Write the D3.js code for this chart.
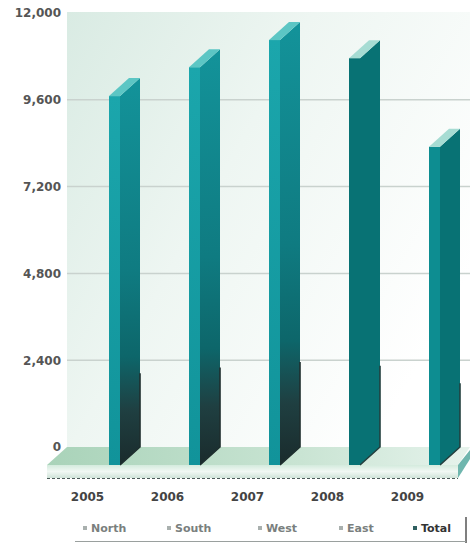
<!DOCTYPE html>
<html><head><meta charset="utf-8">
<script src="https://cdn.jsdelivr.net/npm/d3@7"></script>
<style>
html,body{margin:0;padding:0;background:#fff;}
svg{display:block;}
</style></head>
<body>
<script>
// ---- data ----
const years = ["2005", "2006", "2007", "2008", "2009"];
const totals = [10200, 11000, 11750, 11250, 8800];
const yTicks = [0, 2400, 4800, 7200, 9600, 12000];
const gridTicks = [2400, 4800, 7200, 9600];
const legendLabels = ["North", "South", "West", "East", "Total"];

const W = 470, H = 543;
const svg = d3.select("body").append("svg").attr("width", W).attr("height", H);
const defs = svg.append("defs");

// depth vector (towards the back)
const DX = 20, DY = -18;
const FRONT_W = 11;

const y = d3.scaleLinear().domain([0, 12000]).range([447, 13]);
const x = d3.scalePoint().domain(years).range([87, 407]);

// gradients
const wallG = defs.append("linearGradient").attr("id", "wall").attr("x1", 0).attr("y1", 0).attr("x2", 1).attr("y2", 0.6);
wallG.append("stop").attr("offset", 0).attr("stop-color", "#d9ebe3");
wallG.append("stop").attr("offset", 0.45).attr("stop-color", "#eef6f2");
wallG.append("stop").attr("offset", 1).attr("stop-color", "#ffffff");

const floorTop = defs.append("linearGradient").attr("id", "floorTop").attr("x1", 0).attr("y1", 0).attr("x2", 1).attr("y2", 0);
floorTop.append("stop").attr("offset", 0).attr("stop-color", "#a9d3b9");
floorTop.append("stop").attr("offset", 0.6).attr("stop-color", "#c9e4d3");
floorTop.append("stop").attr("offset", 1).attr("stop-color", "#e6f3ec");

const floorFront = defs.append("linearGradient").attr("id", "floorFront").attr("x1", 0).attr("y1", 0).attr("x2", 0).attr("y2", 1);
floorFront.append("stop").attr("offset", 0).attr("stop-color", "#d4ebdd");
floorFront.append("stop").attr("offset", 0.5).attr("stop-color", "#f1f8f4");
floorFront.append("stop").attr("offset", 1).attr("stop-color", "#cfe3d8");

const frontG = defs.append("linearGradient").attr("id", "front").attr("x1", 0).attr("y1", 0).attr("x2", 0).attr("y2", 1);
frontG.append("stop").attr("offset", 0).attr("stop-color", "#1ba6ac");
frontG.append("stop").attr("offset", 1).attr("stop-color", "#11939a");

const sideG = defs.append("linearGradient").attr("id", "side").attr("x1", 0).attr("y1", 0).attr("x2", 0).attr("y2", 1);
sideG.append("stop").attr("offset", 0).attr("stop-color", "#13939a");
sideG.append("stop").attr("offset", 0.5).attr("stop-color", "#0f7b81");
sideG.append("stop").attr("offset", 0.72).attr("stop-color", "#0d666a");
sideG.append("stop").attr("offset", 0.86).attr("stop-color", "#1f3f41");
sideG.append("stop").attr("offset", 1).attr("stop-color", "#1a2b2c");

// back wall
svg.append("rect").attr("x", 67).attr("y", 12).attr("width", W - 67).attr("height", y(0) - 12).attr("fill", "url(#wall)");

// gridlines
svg.append("g").selectAll("line").data(gridTicks).join("line")
  .attr("x1", 67).attr("x2", W).attr("y1", d => y(d)).attr("y2", d => y(d))
  .attr("stroke", "#c9d2ce").attr("stroke-width", 1.5);

// floor
const fy0 = y(0), fy1 = y(0) - DY; // back and front edges
svg.append("polygon")
  .attr("points", [[67, fy0], [W, fy0], [W - 12, fy1], [67 - DX, fy1]].map(p => p.join(",")).join(" "))
  .attr("fill", "url(#floorTop)");
svg.append("rect").attr("x", 67 - DX).attr("y", fy1).attr("width", W - 12 - (67 - DX)).attr("height", 13)
  .attr("fill", "url(#floorFront)");
svg.append("line").attr("x1", 67 - DX).attr("x2", W - 12).attr("y1", fy1 + 13.5).attr("y2", fy1 + 13.5)
  .attr("stroke", "#4a5a58").attr("stroke-width", 1).attr("stroke-dasharray", "3,2");
svg.append("polygon")
  .attr("points", [[W - 12, fy1], [W, fy0 + 3], [W, fy0 + 12], [W - 12, fy1 + 13]].map(p => p.join(",")).join(" "))
  .attr("fill", "#6fb6ae");

// y axis labels
const yAxis = d3.axisLeft(y).tickValues(yTicks).tickFormat(d3.format(",")).tickSize(0).tickPadding(0);
const yg = svg.append("g").attr("transform", "translate(61,0)").call(yAxis);
yg.select(".domain").remove();
yg.selectAll("text").attr("font-family", "DejaVu Sans, sans-serif").attr("font-weight", "bold")
  .attr("font-size", 12).attr("fill", "#555");

// bars
const bars = svg.append("g").selectAll("g").data(years.map((yr, i) => ({ yr, v: totals[i], i }))).join("g");
bars.each(function (d) {
  const g = d3.select(this);
  const L = x(d.yr) + 22;
  const R = L + FRONT_W;
  const bot = fy1;
  const top = y(d.v) - DY;
  const old = d.i < 3;
  // side face
  g.append("polygon")
    .attr("points", [[R, top], [R + DX, top + DY], [R + DX, bot + DY], [R, bot]].map(p => p.join(",")).join(" "))
    .attr("fill", old ? "url(#side)" : "#087274");
  // dark shadow edge at bottom right
  g.append("polyline")
    .attr("points", [[R + DX, top + DY + (bot - top) * 0.8], [R + DX, bot + DY], [R, bot]].map(p => p.join(",")).join(" "))
    .attr("fill", "none").attr("stroke", old ? "#1e2e2e" : "#24403f").attr("stroke-width", 1.6);
  // front face
  g.append("rect").attr("x", L).attr("y", top).attr("width", FRONT_W).attr("height", bot - top)
    .attr("fill", old ? "url(#front)" : (d.i === 4 ? "#0d8d91" : "#087274"));
  // top cap
  g.append("polygon")
    .attr("points", [[L, top], [R, top], [R + DX, top + DY], [L + DX, top + DY]].map(p => p.join(",")).join(" "))
    .attr("fill", old ? "#5cc6c4" : "#a6dcd3");
});

// x axis labels
const xAxis = d3.axisBottom(x).tickSize(0).tickPadding(0);
const xg = svg.append("g").attr("transform", "translate(0,492)").call(xAxis);
xg.select(".domain").remove();
xg.selectAll("text").attr("font-family", "DejaVu Sans, sans-serif").attr("font-weight", "bold")
  .attr("font-size", 12).attr("fill", "#444");

// legend
const legX = [83, 167, 258, 339, 413];
const leg = svg.append("g").selectAll("g").data(legendLabels).join("g")
  .attr("transform", (d, i) => `translate(${legX[i]},532)`);
leg.append("rect").attr("x", 0).attr("y", -6).attr("width", 4).attr("height", 4)
  .attr("fill", (d, i) => i === 4 ? "#2f5f60" : "#a9b0ae");
leg.append("text").attr("x", 8).attr("y", 0).text(d => d)
  .attr("font-family", "DejaVu Sans, sans-serif").attr("font-weight", "bold").attr("font-size", 11)
  .attr("fill", (d, i) => i === 4 ? "#333" : "#7a7f7e");
svg.append("line").attr("x1", 466).attr("x2", 466).attr("y1", 517).attr("y2", 543).attr("stroke", "#555").attr("stroke-width", 1.5);
svg.append("line").attr("x1", 75).attr("x2", 466).attr("y1", 541.5).attr("y2", 541.5).attr("stroke", "#9aa09e").attr("stroke-width", 1);
</script>
</body></html>
